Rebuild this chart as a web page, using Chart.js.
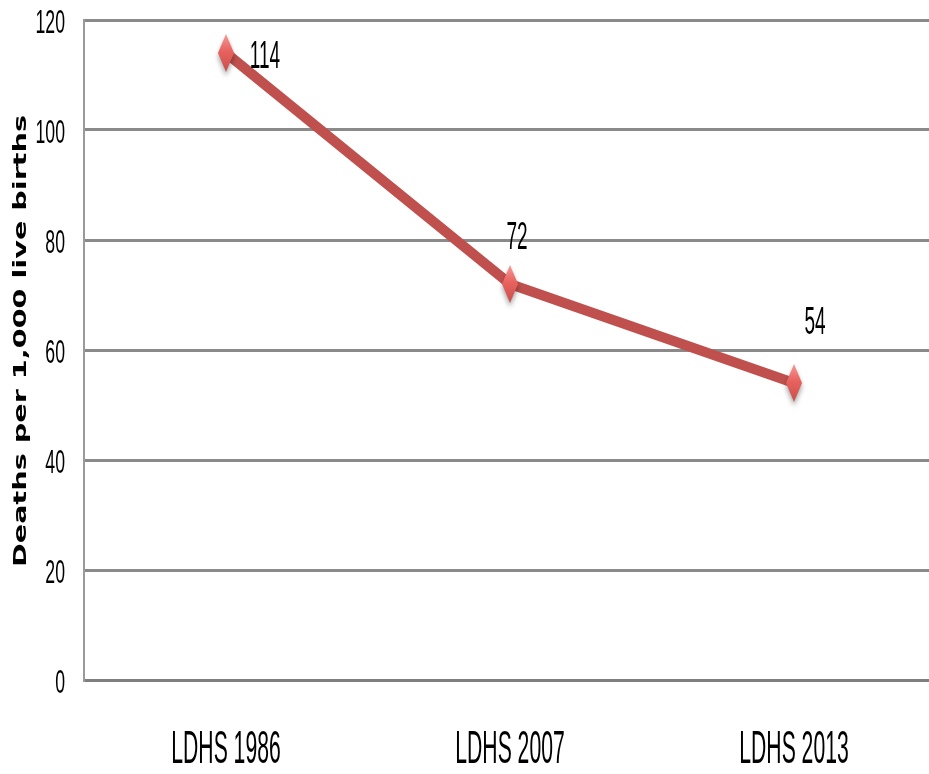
<!DOCTYPE html>
<html>
<head>
<meta charset="utf-8">
<script src="https://cdn.jsdelivr.net/npm/chart.js@4.4.1/dist/chart.umd.min.js"></script>
<style>
    html, body { margin: 0; padding: 0; background: #fff; overflow: hidden; }
    #wrap { width: 956px; height: 774px; }
</style>
</head>
<body>
<div id="wrap"><canvas id="chart" width="956" height="774"></canvas></div>
<script>
// Chart data
const surveys = ['LDHS 1986', 'LDHS 2007', 'LDHS 2013'];
const deathRates = [114, 72, 54];
const yTicks = [0, 20, 40, 60, 80, 100, 120];
const yTitle = 'Deaths per 1,000 live births';

// label offsets from each point (dx, dy)
const labelOffsets = [[39, 5], [7, -45], [21, -59]];

const lineColor = '#c0504d';
const gridColor = '#8a8a8a';

// tall diamond marker drawn once on an offscreen canvas
function makeDiamond() {
    const c = document.createElement('canvas');
    c.width = 32;
    c.height = 66;
    const g = c.getContext('2d');
    const cx = 16, cy = 33, hw = 8, hh = 19;
    g.shadowColor = 'rgba(0,0,0,0.35)';
    g.shadowBlur = 5;
    g.shadowOffsetY = 4;
    const grad = g.createLinearGradient(0, cy - hh, 0, cy + hh);
    grad.addColorStop(0, '#f59a97');
    grad.addColorStop(0.45, '#e8625f');
    grad.addColorStop(1, '#c94f4c');
    g.fillStyle = grad;
    g.beginPath();
    g.moveTo(cx, cy - hh);
    g.lineTo(cx + hw, cy);
    g.lineTo(cx, cy + hh);
    g.lineTo(cx - hw, cy);
    g.closePath();
    g.fill();
    return c;
}

function drawText(ctx, text, x, y, font, sx, align) {
    ctx.save();
    ctx.translate(x, y);
    ctx.scale(sx, 1);
    ctx.font = font;
    ctx.fillStyle = '#000';
    ctx.textAlign = align;
    ctx.textBaseline = 'middle';
    ctx.fillText(text, 0, 0);
    ctx.restore();
}

const textPlugin = {
    id: 'chartText',
    afterDraw(chart) {
        const ctx = chart.ctx;
        const xs = chart.scales.x;
        const ys = chart.scales.y;

        // y tick labels
        yTicks.forEach(v => {
            drawText(ctx, String(v), 65, ys.getPixelForValue(v) + 4,
                '34px "Liberation Sans", Arial, sans-serif', 0.52, 'right');
        });

        // category labels
        surveys.forEach((s, i) => {
            drawText(ctx, s, xs.getPixelForValue(i), 750,
                '47px "Liberation Sans", Arial, sans-serif', 0.45, 'center');
        });

        // value labels
        const meta = chart.getDatasetMeta(0);
        meta.data.forEach((pt, i) => {
            const off = labelOffsets[i];
            drawText(ctx, String(deathRates[i]), pt.x + off[0], pt.y + off[1],
                '38px "Liberation Sans", Arial, sans-serif', 0.5, 'center');
        });

        // axis title, rotated and stretched
        ctx.save();
        ctx.font = 'bold 18px "DejaVu Sans", sans-serif';
        const w = ctx.measureText(yTitle).width;
        ctx.translate(21, 341);
        ctx.rotate(-Math.PI / 2);
        ctx.scale(452 / w, 1);
        ctx.fillStyle = '#000';
        ctx.textAlign = 'center';
        ctx.textBaseline = 'middle';
        ctx.fillText(yTitle, 0, 0);
        ctx.restore();
    }
};

new Chart(document.getElementById('chart'), {
    type: 'line',
    data: {
        labels: surveys,
        datasets: [{
            data: deathRates,
            borderColor: lineColor,
            borderWidth: 10,
            tension: 0,
            pointStyle: makeDiamond(),
            pointRadius: 10,
            pointHoverRadius: 10
        }]
    },
    options: {
        responsive: false,
        animation: false,
        layout: {
            padding: { left: 84, top: 20, right: 4, bottom: 94 }
        },
        plugins: {
            legend: { display: false },
            tooltip: { enabled: false }
        },
        scales: {
            x: {
                offset: true,
                grid: { display: false, drawTicks: false },
                border: { display: true, color: '#7f7f7f', width: 3 },
                ticks: { display: false }
            },
            y: {
                min: 0,
                max: 120,
                grid: { color: gridColor, lineWidth: 3, drawTicks: false },
                border: { display: true, color: '#9a9a9a', width: 2 },
                ticks: { display: false, stepSize: 20 }
            }
        }
    },
    plugins: [textPlugin]
});
</script>
</body>
</html>
